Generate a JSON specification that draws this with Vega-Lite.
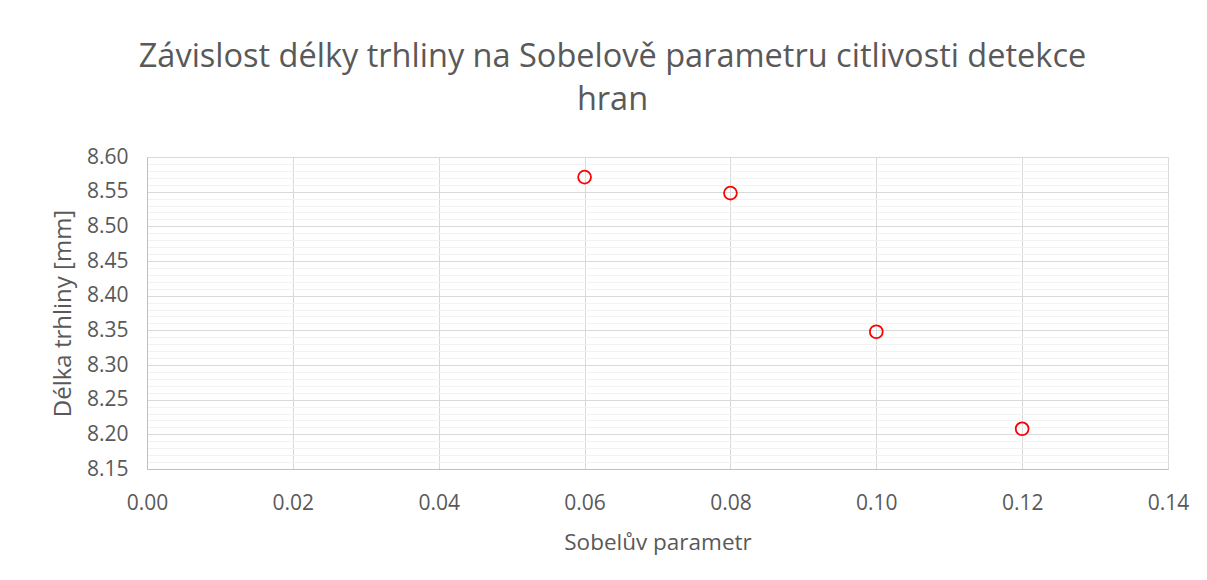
{
  "$schema": "https://vega.github.io/schema/vega-lite/v6.json",
  "autosize": "none",
  "width": 1021,
  "height": 312,
  "padding": {"left": 147, "top": 157, "right": 39, "bottom": 111},
  "background": "white",
  "config": {
    "font": "Open Sans",
    "view": {"stroke": "#d9d9d9", "strokeWidth": 1}
  },
  "title": {
    "text": ["Závislost délky trhliny na Sobelově parametru citlivosti detekce", "hran"],
    "fontSize": 32.5,
    "fontWeight": "normal",
    "color": "#595959",
    "anchor": "middle",
    "dx": -45,
    "offset": 30,
    "lineHeight": 43
  },
  "data": {
    "values": [
      {"sobel": 0.06, "delka": 8.571},
      {"sobel": 0.08, "delka": 8.548},
      {"sobel": 0.10, "delka": 8.348},
      {"sobel": 0.12, "delka": 8.208}
    ]
  },
  "layer": [
    {
      "mark": {"type": "point", "opacity": 0},
      "encoding": {
        "x": {
          "field": "sobel", "type": "quantitative",
          "scale": {"domain": [0, 0.14], "nice": false, "zero": false}
        },
        "y": {
          "field": "delka", "type": "quantitative",
          "scale": {"domain": [8.15, 8.6], "nice": false, "zero": false},
          "axis": {
            "orient": "left",
            "values": [8.16,8.17,8.18,8.19,8.21,8.22,8.23,8.24,8.26,8.27,8.28,8.29,8.31,8.32,8.33,8.34,8.36,8.37,8.38,8.39,8.41,8.42,8.43,8.44,8.46,8.47,8.48,8.49,8.51,8.52,8.53,8.54,8.56,8.57,8.58,8.59],
            "grid": true, "gridColor": "#f2f2f2", "gridWidth": 1,
            "labels": false, "ticks": false, "domain": false, "title": null
          }
        }
      }
    },
    {
      "mark": {"type": "point", "shape": "circle", "filled": false, "color": "#ff0000", "size": 165, "strokeWidth": 1.8, "opacity": 1},
      "encoding": {
        "x": {
          "field": "sobel", "type": "quantitative",
          "scale": {"domain": [0, 0.14], "nice": false, "zero": false},
          "axis": {
            "values": [0, 0.02, 0.04, 0.06, 0.08, 0.1, 0.12, 0.14],
            "format": ".2f",
            "title": "Sobelův parametr",
            "grid": true, "gridColor": "#d9d9d9",
            "ticks": false,
            "labelFlush": false,
            "domainColor": "#bfbfbf",
            "labelColor": "#595959", "labelFontSize": 21, "labelPadding": 23,
            "titleColor": "#595959", "titleFontSize": 22.5, "titleFontWeight": "normal", "titlePadding": 18
          }
        },
        "y": {
          "field": "delka", "type": "quantitative",
          "scale": {"domain": [8.15, 8.6], "nice": false, "zero": false},
          "axis": {
            "orient": "left",
            "values": [8.15, 8.2, 8.25, 8.3, 8.35, 8.4, 8.45, 8.5, 8.55, 8.6],
            "format": ".2f",
            "title": "Délka trhliny [mm]",
            "grid": true, "gridColor": "#d9d9d9",
            "ticks": false,
            "labelFlush": false,
            "domainColor": "#bfbfbf",
            "labelColor": "#595959", "labelFontSize": 21, "labelPadding": 19,
            "titleColor": "#595959", "titleFontSize": 24, "titleFontWeight": "normal", "titlePadding": 11
          }
        }
      }
    }
  ],
  "resolve": {"axis": {"y": "independent"}}
}
